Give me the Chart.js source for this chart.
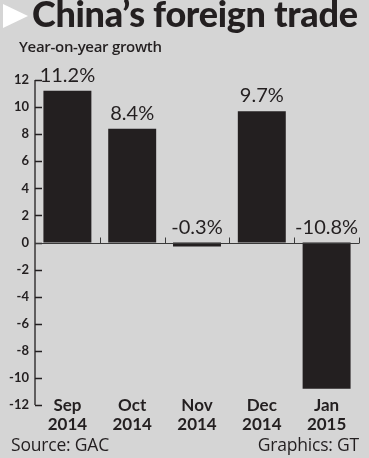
<!DOCTYPE html>
<html>
<head>
<meta charset="utf-8">
<script src="https://cdn.jsdelivr.net/npm/chart.js@4.4.0/dist/chart.umd.min.js"></script>
<style>
  html, body { margin: 0; padding: 0; }
  body { width: 369px; height: 458px; background: #d5d5d5; position: relative; overflow: hidden; font-family: "Open Sans", sans-serif; color: #231f20; }
  #wrap { position: absolute; left: 0; top: 0; width: 369px; height: 458px; }
  .tri { position: absolute; left: 3px; top: 4px; width: 0; height: 0; border-top: 12px solid transparent; border-bottom: 12px solid transparent; border-left: 25px solid #fff; }
  .title { position: absolute; left: 32px; top: -9px; font-family: Lato, sans-serif; font-weight: 900; font-size: 36px; letter-spacing: -0.3px; white-space: nowrap; }
  .sub { position: absolute; left: 19px; top: 36px; font-family: "Open Sans", sans-serif; font-weight: 600; font-size: 15px; letter-spacing: -0.3px; white-space: nowrap; }
  .foot { position: absolute; top: 432px; font-size: 17.5px; letter-spacing: -0.2px; white-space: nowrap; }
</style>
</head>
<body>
<div id="wrap"><canvas id="chart1" width="369" height="458"></canvas></div>
<div class="tri"></div>
<div class="title">China’s foreign trade</div>
<div class="sub">Year-on-year growth</div>
<div class="foot" style="left:11px">Source: GAC</div>
<div class="foot" style="right:10px">Graphics: GT</div>
<script>
const months = [['Sep', '2014'], ['Oct', '2014'], ['Nov', '2014'], ['Dec', '2014'], ['Jan', '2015']];
const growth = [11.2, 8.4, -0.3, 9.7, -10.8];
const yTicks = [12, 10, 8, 6, 4, 2, 0, -2, -4, -6, -8, -10, -12];

const ink = '#231f20';

// axis line, inward ticks, zero line, value labels, category labels
const decor = {
  id: 'decor',
  afterDatasetsDraw(chart) {
    const c = chart.ctx, y = chart.scales.y, x = chart.scales.x;
    const left = chart.chartArea.left, right = chart.chartArea.right;
    c.save();
    c.strokeStyle = ink;
    c.lineWidth = 1.3;
    c.beginPath();
    c.moveTo(left, y.getPixelForValue(12));
    c.lineTo(left, y.getPixelForValue(-12));
    yTicks.forEach(v => {
      const py = Math.round(y.getPixelForValue(v)) + 0.5;
      c.moveTo(left, py);
      c.lineTo(left + 7, py);
    });
    c.stroke();

    // zero line with category boundary ticks
    const zy = Math.round(y.getPixelForValue(0)) + 0.5;
    c.strokeStyle = '#3a3a3a';
    c.lineWidth = 1;
    c.beginPath();
    c.moveTo(left, zy);
    c.lineTo(right, zy);
    const half = (x.getPixelForValue(1) - x.getPixelForValue(0)) / 2;
    for (let i = 0; i < months.length; i++) {
      const bx = Math.round(x.getPixelForValue(i) + half) + 0.5;
      c.moveTo(bx, zy);
      c.lineTo(bx, zy - 6);
    }
    c.stroke();

    // value labels
    const meta = chart.getDatasetMeta(0);
    c.fillStyle = ink;
    c.font = '20px Lato, sans-serif';
    c.textAlign = 'center';
    c.textBaseline = 'alphabetic';
    meta.data.forEach((bar, i) => {
      const v = growth[i];
      const top = v >= 0 ? bar.y : y.getPixelForValue(0);
      c.fillText(v.toFixed(1) + '%', bar.x, top - 9);
    });

    // category labels (two lines, starting level with the bottom tick)
    const base = y.getPixelForValue(-12);
    c.font = 'bold 17px Lato, sans-serif';
    c.textBaseline = 'middle';
    months.forEach((m, i) => {
      const px = x.getPixelForValue(i);
      c.fillText(m[0], px, base + 1);
      c.fillText(m[1], px, base + 20);
    });
    c.restore();
  }
};

new Chart(document.getElementById('chart1'), {
  type: 'bar',
  data: {
    labels: months,
    datasets: [{
      data: growth,
      backgroundColor: ink,
      barPercentage: 0.74,
      categoryPercentage: 1
    }]
  },
  options: {
    responsive: false,
    animation: false,
    events: [],
    layout: { padding: { top: 80, right: 10, bottom: 0, left: 0 } },
    plugins: {
      legend: { display: false },
      tooltip: { enabled: false }
    },
    scales: {
      x: {
        grid: { display: false, drawTicks: false },
        border: { display: false },
        ticks: { display: false },
        afterFit(scale) { scale.height = 53; }
      },
      y: {
        min: -12,
        max: 12,
        grid: { display: false, drawTicks: false },
        border: { display: false },
        ticks: {
          stepSize: 2,
          color: ink,
          padding: 6,
          font: { family: 'Lato', size: 13, weight: 'bold' }
        },
        afterFit(scale) { scale.width = 35; }
      }
    }
  },
  plugins: [decor]
});
</script>
</body>
</html>
